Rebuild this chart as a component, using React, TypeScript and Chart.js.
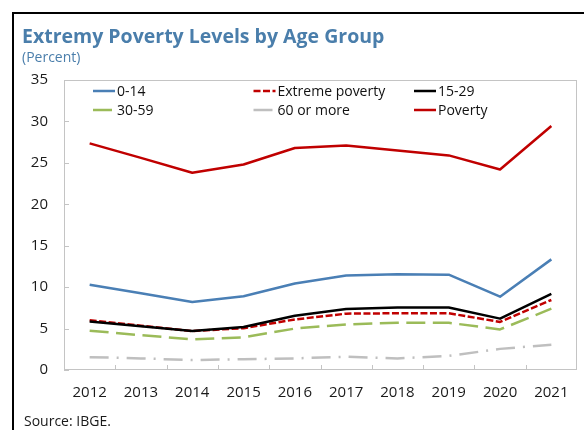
import React, { useEffect, useRef } from "react";
import { Chart, registerables } from "chart.js";

Chart.register(...registerables);

const years = ["2012", "2013", "2014", "2015", "2016", "2017", "2018", "2019", "2020", "2021"];
const age0to14 = [10.3, 9.25, 8.2, 8.9, 10.45, 11.4, 11.55, 11.5, 8.85, 13.35];
const extremePoverty = [6.0, 5.35, 4.7, 5.05, 6.1, 6.8, 6.85, 6.85, 5.8, 8.45];
const age15to29 = [5.85, 5.27, 4.7, 5.2, 6.55, 7.35, 7.55, 7.55, 6.2, 9.2];
const age30to59 = [4.75, 4.2, 3.7, 3.95, 5.0, 5.5, 5.7, 5.7, 4.9, 7.4];
const age60plus = [1.55, 1.4, 1.2, 1.3, 1.4, 1.6, 1.4, 1.7, 2.55, 3.05];
const poverty = [27.35, 25.6, 23.8, 24.8, 26.8, 27.1, 26.5, 25.9, 24.2, 29.45];
const yTicks = [0, 5, 10, 15, 20, 25, 30, 35];

const FONT = "'Open Sans', 'Noto Sans', sans-serif";
const TITLE_BLUE = "#4a7eab";

const framePlugin = {
  id: "frameAndTicks",
  beforeDatasetsDraw(chart: any) {
    const { ctx, chartArea } = chart;
    const { left, right, top, bottom } = chartArea;
    ctx.save();
    ctx.strokeStyle = "#c4c4c4";
    ctx.lineWidth = 1;
    ctx.strokeRect(left + 0.5, top + 0.5, right - left - 1, bottom - top - 1);
    const ys = chart.scales.y;
    ys.ticks.forEach((t: any) => {
      const py = Math.round(ys.getPixelForValue(t.value)) + 0.5;
      ctx.beginPath();
      ctx.moveTo(left, py);
      ctx.lineTo(left + 5, py);
      ctx.stroke();
    });
    const xs = chart.scales.x;
    for (let i = 1; i < years.length; i++) {
      const px = Math.round((xs.getPixelForTick(i - 1) + xs.getPixelForTick(i)) / 2) + 0.5;
      ctx.beginPath();
      ctx.moveTo(px, bottom);
      ctx.lineTo(px, bottom - 5);
      ctx.stroke();
    }
    ctx.restore();
  },
};

const legendPlugin = {
  id: "gridLegend",
  afterDraw(chart: any) {
    const { ctx, chartArea } = chart;
    const datasets = chart.data.datasets;
    ctx.save();
    ctx.font = `14px ${FONT}`;
    ctx.textBaseline = "middle";
    ctx.textAlign = "left";
    datasets.forEach((ds: any, i: number) => {
      const col = i % 3;
      const row = Math.floor(i / 3);
      const x = chartArea.left + 29 + col * 160.5;
      const y = chartArea.top + 11 + row * 19;
      ctx.save();
      ctx.strokeStyle = ds.borderColor;
      ctx.lineWidth = ds.borderWidth;
      ctx.setLineDash(ds.borderDash || []);
      ctx.beginPath();
      ctx.moveTo(x, y);
      ctx.lineTo(x + 22, y);
      ctx.stroke();
      ctx.restore();
      ctx.fillStyle = "#111";
      ctx.fillText(ds.label, x + 24, y + 1);
    });
    ctx.restore();
  },
};

export default function App() {
  const canvasRef = useRef<HTMLCanvasElement | null>(null);

  useEffect(() => {
    if (!canvasRef.current) return;
    Chart.defaults.font.family = FONT;
    const chart = new Chart(canvasRef.current, {
      type: "line",
      data: {
        labels: years,
        datasets: [
          { label: "0-14", data: age0to14, borderColor: "#4a7fb5", borderWidth: 2.5, order: 1 },
          { label: "Extreme poverty", data: extremePoverty, borderColor: "#c00000", borderWidth: 2.5, borderDash: [7, 2.5], order: 1 },
          { label: "15-29", data: age15to29, borderColor: "#000000", borderWidth: 2.5, order: 0 },
          { label: "30-59", data: age30to59, borderColor: "#9bbb59", borderWidth: 2.5, borderDash: [19, 7.5], order: 1 },
          { label: "60 or more", data: age60plus, borderColor: "#bfbfbf", borderWidth: 2.5, borderDash: [19, 8, 2, 8], order: 1 },
          { label: "Poverty", data: poverty, borderColor: "#c00000", borderWidth: 2.5, order: 1 },
        ],
      },
      options: {
        animation: false,
        responsive: false,
        maintainAspectRatio: false,
        layout: { padding: { left: 0, right: 7, top: 80, bottom: 0 } },
        elements: {
          point: { radius: 0, hoverRadius: 0 },
          line: { tension: 0, fill: false, borderCapStyle: "butt", borderJoinStyle: "round" },
        },
        plugins: {
          legend: { display: false },
          title: { display: false },
          tooltip: { enabled: false },
        },
        scales: {
          x: {
            type: "category",
            offset: true,
            grid: { display: false, drawTicks: false },
            border: { display: false },
            ticks: { padding: 14, color: "#1a1a1a", font: { size: 15 }, maxRotation: 0, autoSkip: false },
            afterFit: (s: any) => {
              s.height = 60;
            },
          },
          y: {
            min: 0,
            max: 35,
            grid: { display: false, drawTicks: false },
            border: { display: false },
            ticks: { padding: 16, color: "#1a1a1a", font: { size: 15 } },
            afterBuildTicks: (s: any) => {
              s.ticks = yTicks.map((v) => ({ value: v }));
            },
            afterFit: (s: any) => {
              s.width = 64;
            },
          },
        },
      },
      plugins: [framePlugin, legendPlugin],
    });
    return () => chart.destroy();
  }, []);

  return (
    <div style={{ position: "fixed", left: 0, top: 0, width: 584, height: 430, background: "#fff", overflow: "hidden" }}>
      <div
        style={{
          position: "absolute",
          left: 12,
          top: 12,
          width: 700,
          height: 600,
          borderLeft: "2px solid #000",
          borderTop: "2px solid #000",
        }}
      />
      <canvas ref={canvasRef} width={584} height={430} style={{ position: "absolute", left: 0, top: 0, width: 584, height: 430 }} />
      <div
        style={{
          position: "absolute",
          left: 22,
          top: 26,
          fontFamily: FONT,
          fontWeight: 700,
          fontSize: 19.5,
          lineHeight: "20px",
          color: TITLE_BLUE,
          whiteSpace: "nowrap",
        }}
      >
        Extremy Poverty Levels by Age Group
      </div>
      <div
        style={{
          position: "absolute",
          left: 22,
          top: 49,
          fontFamily: FONT,
          fontSize: 14,
          lineHeight: "16px",
          color: TITLE_BLUE,
          whiteSpace: "nowrap",
        }}
      >
        (Percent)
      </div>
      <div
        style={{
          position: "absolute",
          left: 24,
          top: 413,
          fontFamily: FONT,
          fontSize: 14,
          lineHeight: "16px",
          color: "#1a1a1a",
          whiteSpace: "nowrap",
        }}
      >
        Source: IBGE.
      </div>
    </div>
  );
}
